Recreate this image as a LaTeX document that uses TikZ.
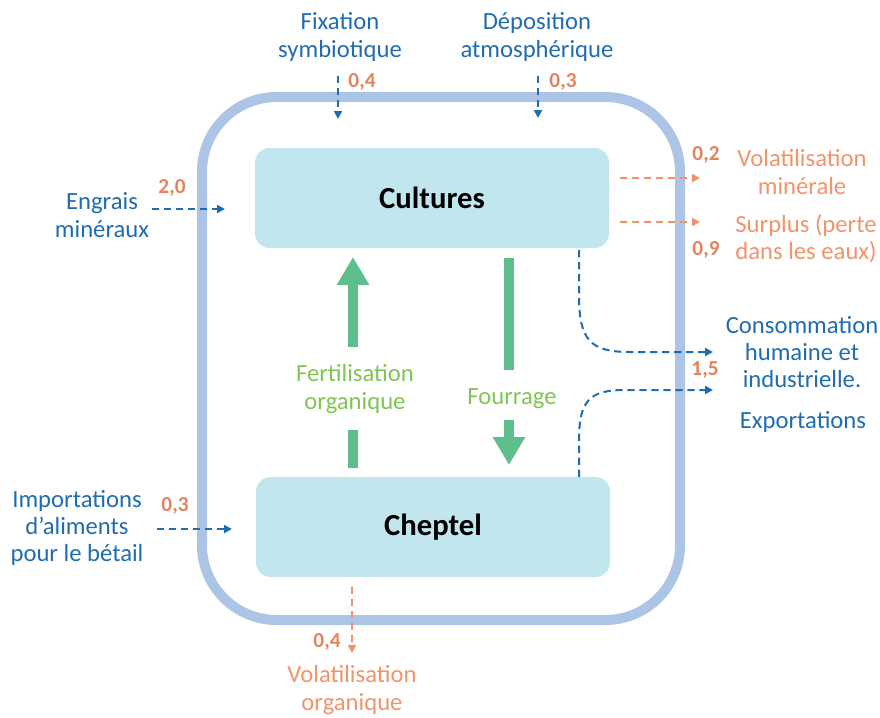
\documentclass[tikz,border=0pt]{standalone}
\usepackage{fontspec}
\setmainfont{Carlito}
\usetikzlibrary{arrows.meta}
\definecolor{txtblue}{RGB}{32,108,176}
\definecolor{txtorange}{RGB}{240,148,108}
\definecolor{numorange}{RGB}{226,132,92}
\definecolor{arrorange}{RGB}{242,144,104}
\definecolor{txtgreen}{RGB}{128,196,84}
\definecolor{arrgreen}{RGB}{94,190,140}
\definecolor{boxfill}{RGB}{193,230,237}
\definecolor{framecol}{RGB}{172,197,230}
\tikzset{
  lbl/.style={inner sep=0pt, align=center, font=\fontsize{18.5}{20.5}\selectfont},
  bluelbl/.style={lbl, text=txtblue},
  orangelbl/.style={lbl, text=txtorange},
  greenlbl/.style={lbl, text=txtgreen},
  num/.style={inner sep=0pt, text=numorange, font=\fontsize{16}{18}\selectfont\bfseries},
  mainbox/.style={draw=none, fill=boxfill, rounded corners=11pt, minimum width=265.5pt, minimum height=75pt, font=\fontsize{23}{25}\selectfont\bfseries},
  framebox/.style={draw=framecol, line width=7.5pt, rounded corners=56pt},
  bluearr/.style={draw=txtblue, line width=1.5pt, dash pattern=on 5.5pt off 3.5pt, -{Triangle[length=6pt,width=6pt]}},
  orangearr/.style={draw=arrorange, line width=1.5pt, dash pattern=on 5.5pt off 3.5pt, -{Triangle[length=6pt,width=6pt]}},
  greenarr/.style={draw=arrgreen, line width=7.5pt, -{Triangle[length=21pt,width=23pt]}},
  greenbar/.style={draw=arrgreen, line width=7.5pt}
}
\begin{document}
\begin{tikzpicture}[x=0.75pt,y=-0.75pt]
\useasboundingbox (0,0) rectangle (880,717);
% frame
\draw[framebox] (202,97) rectangle (680,620);
% main boxes
\node[mainbox] (cultures) at (432,198) {Cultures};
\node[mainbox] (cheptel) at (433,527) {Cheptel};
% labels
\node[bluelbl] (fix) at (340,37) {Fixation\\symbiotique};
\node[bluelbl] (dep) at (537,37) {Déposition\\atmosphérique};
\node[bluelbl] (engrais) at (102,215) {Engrais\\minéraux};
\node[bluelbl] (import) at (77,528) {Importations\\d’aliments\\pour le bétail};
\node[bluelbl] (conso) at (802,352) {Consommation\\humaine et\\industrielle.};
\node[bluelbl] (export) at (803,422) {Exportations};
\node[orangelbl] (volmin) at (802,172) {Volatilisation\\minérale};
\node[orangelbl] (surplus) at (806,239) {Surplus (perte\\dans les eaux)};
\node[orangelbl] (volorg) at (352,690) {Volatilisation\\organique};
\node[greenlbl] (fert) at (355,389) {Fertilisation\\organique};
\node[greenlbl] (fourrage) at (512,399) {Fourrage};
% numbers
\node[num] (n1) at (362,82) {0,4};
\node[num] (n2) at (563,82) {0,3};
\node[num] (n3) at (172,188) {2,0};
\node[num] (n4) at (706,155) {0,2};
\node[num] (n5) at (706,250) {0,9};
\node[num] (n6) at (705,370) {1,5};
\node[num] (n7) at (175,506) {0,3};
\node[num] (n8) at (327,642) {0,4};
% endpoints
\coordinate (fixA) at (338,76);   \coordinate (fixB) at (338,119);
\coordinate (depA) at (538,76);   \coordinate (depB) at (538,118);
\coordinate (engA) at (152,209);  \coordinate (engB) at (225,209);
\coordinate (impA) at (157,529);  \coordinate (impB) at (232,529);
\coordinate (vmA) at (620,178);   \coordinate (vmB) at (700,178);
\coordinate (spA) at (620,222);   \coordinate (spB) at (700,222);
\coordinate (voA) at (352,587);   \coordinate (voB) at (352,653);
\coordinate (c1A) at (579,250);   \coordinate (c1B) at (713,352);
\coordinate (c2A) at (579,477);   \coordinate (c2B) at (713,390);
% dashed flows
\draw[bluearr] (fixA) -- (fixB);
\draw[bluearr] (depA) -- (depB);
\draw[bluearr] (engA) -- (engB);
\draw[bluearr] (impA) -- (impB);
\draw[orangearr] (vmA) -- (vmB);
\draw[orangearr] (spA) -- (spB);
\draw[orangearr] (voA) -- (voB);
\draw[bluearr] (c1A) -- (579,295) .. controls (579,340) and (590,352) .. (630,352) -- (c1B);
\draw[bluearr] (c2A) -- (579,440) .. controls (579,400) and (590,390) .. (625,390) -- (c2B);
% green flows
\coordinate (fertA) at (353,347); \coordinate (fertB) at (353,257);
\coordinate (fertC) at (353,468); \coordinate (fertD) at (353,430);
\coordinate (fouA) at (509,258);  \coordinate (fouB) at (509,370);
\coordinate (fouC) at (509,420);  \coordinate (fouD) at (509,465);
\draw[greenarr] (fertA) -- (fertB);
\draw[greenbar] (fertC) -- (fertD);
\draw[greenbar] (fouA) -- (fouB);
\draw[greenarr] (fouC) -- (fouD);
\end{tikzpicture}
\end{document}
